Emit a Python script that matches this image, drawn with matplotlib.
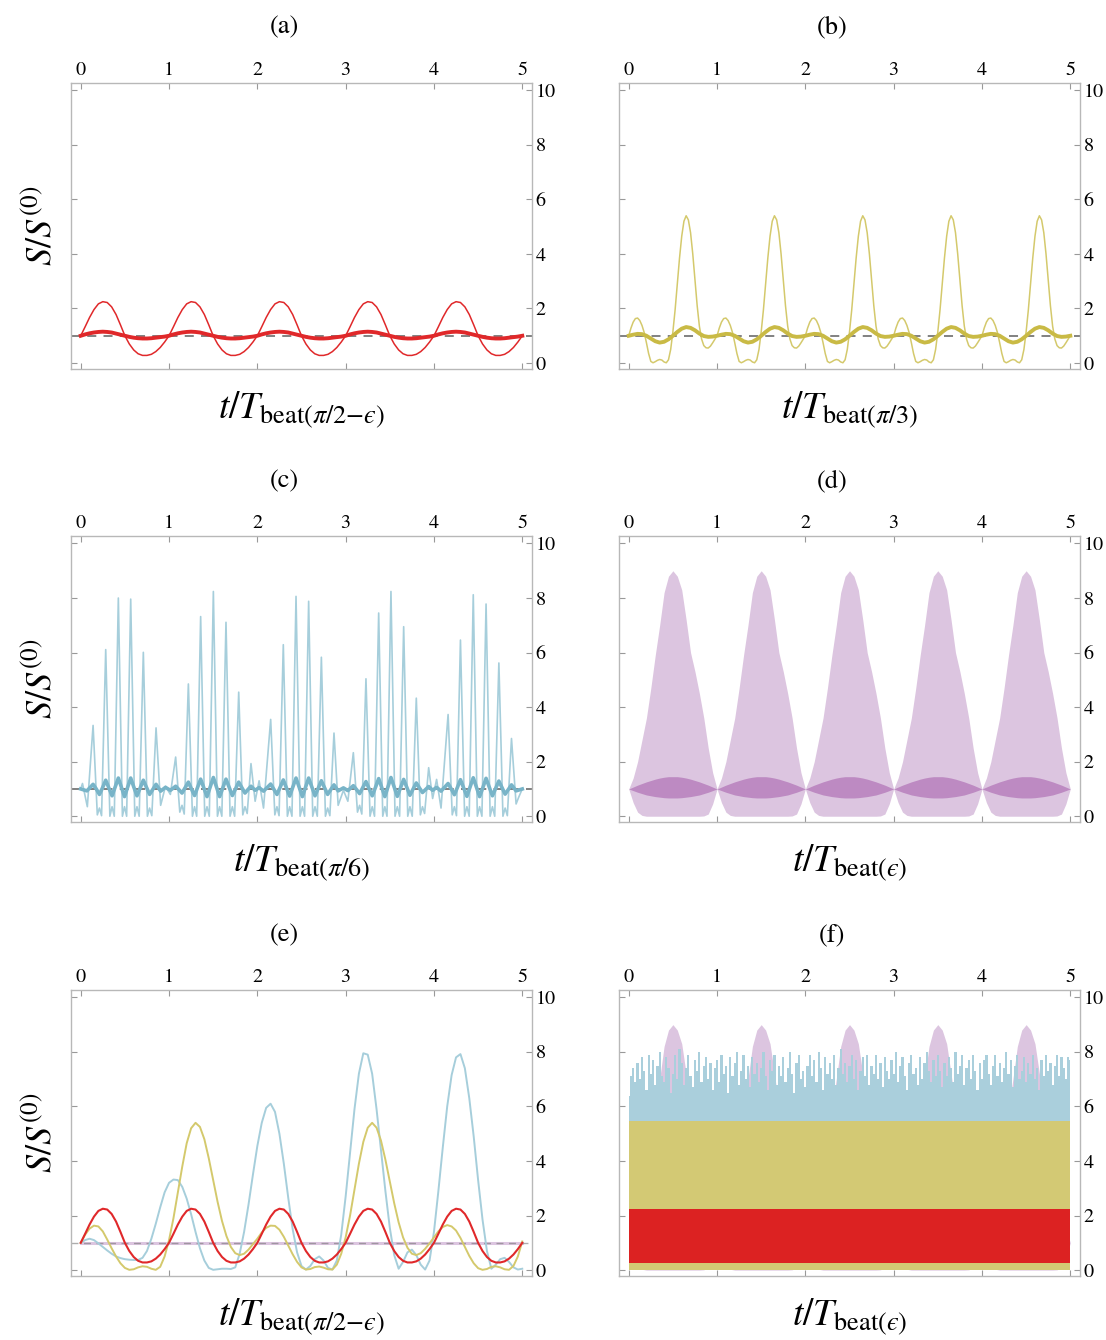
import numpy as np
import matplotlib
matplotlib.use('Agg')
import matplotlib.pyplot as plt

plt.rcParams['font.family'] = ['STIXGeneral', 'DejaVu Serif']
plt.rcParams['mathtext.fontset'] = 'stix'

# sample times (t / T_beat)
t_coarse = np.linspace(0, 5, 101)   # step 0.05
t_fine = np.linspace(0, 5, 201)     # step 0.025

# (a) theta = pi/2 - eps, red
a_thin = [
    1.00, 1.33, 1.67, 1.96, 2.17, 2.25, 2.22, 2.06, 1.78, 1.40, 1.00, 0.70, 0.48, 0.34, 0.28, 0.28, 0.32, 0.42, 0.57, 0.77,
    1.00, 1.33, 1.67, 1.96, 2.17, 2.25, 2.22, 2.06, 1.78, 1.40, 1.00, 0.70, 0.48, 0.34, 0.28, 0.28, 0.32, 0.42, 0.57, 0.77,
    1.00, 1.33, 1.67, 1.96, 2.17, 2.25, 2.22, 2.06, 1.78, 1.40, 1.00, 0.70, 0.48, 0.34, 0.28, 0.28, 0.32, 0.42, 0.57, 0.77,
    1.00, 1.33, 1.67, 1.96, 2.17, 2.25, 2.22, 2.06, 1.78, 1.40, 1.00, 0.70, 0.48, 0.34, 0.28, 0.28, 0.32, 0.42, 0.57, 0.77,
    1.00, 1.33, 1.67, 1.96, 2.17, 2.25, 2.22, 2.06, 1.78, 1.40, 1.00, 0.70, 0.48, 0.34, 0.28, 0.28, 0.32, 0.42, 0.57, 0.77,
    1.00]
a_thick = [
    1.00, 1.05, 1.09, 1.12, 1.14, 1.15, 1.14, 1.12, 1.08, 1.04, 1.00, 0.96, 0.93, 0.91, 0.90, 0.90, 0.91, 0.93, 0.95, 0.97,
    1.00, 1.05, 1.09, 1.12, 1.14, 1.15, 1.14, 1.12, 1.08, 1.04, 1.00, 0.96, 0.93, 0.91, 0.90, 0.90, 0.91, 0.93, 0.95, 0.97,
    1.00, 1.05, 1.09, 1.12, 1.14, 1.15, 1.14, 1.12, 1.08, 1.04, 1.00, 0.96, 0.93, 0.91, 0.90, 0.90, 0.91, 0.93, 0.95, 0.97,
    1.00, 1.05, 1.09, 1.12, 1.14, 1.15, 1.14, 1.12, 1.08, 1.04, 1.00, 0.96, 0.93, 0.91, 0.90, 0.90, 0.91, 0.93, 0.95, 0.97,
    1.00, 1.05, 1.09, 1.12, 1.14, 1.15, 1.14, 1.12, 1.08, 1.04, 1.00, 0.96, 0.93, 0.91, 0.90, 0.90, 0.91, 0.93, 0.95, 0.97,
    1.00]

# (b) theta = pi/3, yellow (thin on fine grid)
b_thin = [
    1.00, 1.28, 1.50, 1.63, 1.65, 1.56, 1.38, 1.12, 0.75, 0.35, 0.06, 0.01, 0.05, 0.10, 0.13, 0.11, 0.04, 0.01, 0.12, 0.50,
    1.15, 1.95, 2.90, 3.85, 4.65, 5.20, 5.40, 5.25, 4.78, 4.00, 3.05, 2.10, 1.35, 0.88, 0.64, 0.56, 0.55, 0.62, 0.74, 0.87,
    1.00, 1.28, 1.50, 1.63, 1.65, 1.56, 1.38, 1.12, 0.75, 0.35, 0.06, 0.01, 0.05, 0.10, 0.13, 0.11, 0.04, 0.01, 0.12, 0.50,
    1.15, 1.95, 2.90, 3.85, 4.65, 5.20, 5.40, 5.25, 4.78, 4.00, 3.05, 2.10, 1.35, 0.88, 0.64, 0.56, 0.55, 0.62, 0.74, 0.87,
    1.00, 1.28, 1.50, 1.63, 1.65, 1.56, 1.38, 1.12, 0.75, 0.35, 0.06, 0.01, 0.05, 0.10, 0.13, 0.11, 0.04, 0.01, 0.12, 0.50,
    1.15, 1.95, 2.90, 3.85, 4.65, 5.20, 5.40, 5.25, 4.78, 4.00, 3.05, 2.10, 1.35, 0.88, 0.64, 0.56, 0.55, 0.62, 0.74, 0.87,
    1.00, 1.28, 1.50, 1.63, 1.65, 1.56, 1.38, 1.12, 0.75, 0.35, 0.06, 0.01, 0.05, 0.10, 0.13, 0.11, 0.04, 0.01, 0.12, 0.50,
    1.15, 1.95, 2.90, 3.85, 4.65, 5.20, 5.40, 5.25, 4.78, 4.00, 3.05, 2.10, 1.35, 0.88, 0.64, 0.56, 0.55, 0.62, 0.74, 0.87,
    1.00, 1.28, 1.50, 1.63, 1.65, 1.56, 1.38, 1.12, 0.75, 0.35, 0.06, 0.01, 0.05, 0.10, 0.13, 0.11, 0.04, 0.01, 0.12, 0.50,
    1.15, 1.95, 2.90, 3.85, 4.65, 5.20, 5.40, 5.25, 4.78, 4.00, 3.05, 2.10, 1.35, 0.88, 0.64, 0.56, 0.55, 0.62, 0.74, 0.87,
    1.00]
b_thick = [
    1.00, 1.04, 1.07, 1.06, 1.00, 0.90, 0.80, 0.75, 0.78, 0.87, 1.00, 1.14, 1.26, 1.32, 1.29, 1.20, 1.08, 0.99, 0.96, 0.97,
    1.00, 1.04, 1.07, 1.06, 1.00, 0.90, 0.80, 0.75, 0.78, 0.87, 1.00, 1.14, 1.26, 1.32, 1.29, 1.20, 1.08, 0.99, 0.96, 0.97,
    1.00, 1.04, 1.07, 1.06, 1.00, 0.90, 0.80, 0.75, 0.78, 0.87, 1.00, 1.14, 1.26, 1.32, 1.29, 1.20, 1.08, 0.99, 0.96, 0.97,
    1.00, 1.04, 1.07, 1.06, 1.00, 0.90, 0.80, 0.75, 0.78, 0.87, 1.00, 1.14, 1.26, 1.32, 1.29, 1.20, 1.08, 0.99, 0.96, 0.97,
    1.00, 1.04, 1.07, 1.06, 1.00, 0.90, 0.80, 0.75, 0.78, 0.87, 1.00, 1.14, 1.26, 1.32, 1.29, 1.20, 1.08, 0.99, 0.96, 0.97,
    1.00]

# (c) theta = pi/6, blue: (t, S) key points
c_thin = [
    (0.000, 1.00), (0.020, 1.20), (0.075, 0.35),
    (0.140, 3.33), (0.188, 0.05), (0.212, 0.30), (0.236, 0.02),
    (0.283, 6.11), (0.330, 0.00), (0.355, 0.35), (0.380, 0.00),
    (0.426, 8.00), (0.472, 0.00), (0.496, 0.35), (0.520, 0.00),
    (0.566, 7.96), (0.612, 0.00), (0.637, 0.35), (0.662, 0.00),
    (0.709, 6.01), (0.755, 0.00), (0.780, 0.30), (0.805, 0.02),
    (0.853, 3.24), (0.905, 0.40), (0.960, 1.10), (1.015, 0.80),
    (1.075, 2.17), (1.122, 0.15), (1.147, 0.40), (1.172, 0.08),
    (1.219, 4.85), (1.265, 0.00), (1.289, 0.35), (1.313, 0.00),
    (1.358, 7.32), (1.404, 0.00), (1.430, 0.35), (1.456, 0.00),
    (1.502, 8.24), (1.548, 0.00), (1.573, 0.35), (1.598, 0.00),
    (1.645, 7.11), (1.691, 0.00), (1.717, 0.35), (1.743, 0.00),
    (1.789, 4.55), (1.835, 0.05), (1.860, 0.35), (1.885, 0.10),
    (1.928, 1.93), (1.975, 0.55), (2.020, 1.30), (2.070, 0.30),
    (2.151, 3.55), (2.198, 0.05), (2.222, 0.35), (2.246, 0.02),
    (2.294, 6.29), (2.340, 0.00), (2.366, 0.35), (2.392, 0.00),
    (2.438, 8.06), (2.484, 0.00), (2.510, 0.35), (2.535, 0.00),
    (2.581, 7.88), (2.627, 0.00), (2.653, 0.35), (2.679, 0.00),
    (2.725, 5.83), (2.771, 0.00), (2.796, 0.30), (2.821, 0.02),
    (2.868, 3.05), (2.915, 0.40), (2.975, 0.95), (3.025, 0.55),
    (3.087, 2.33), (3.134, 0.15), (3.158, 0.40), (3.183, 0.08),
    (3.230, 5.04), (3.276, 0.00), (3.301, 0.35), (3.327, 0.00),
    (3.374, 7.45), (3.420, 0.00), (3.444, 0.35), (3.468, 0.00),
    (3.513, 8.24), (3.559, 0.00), (3.585, 0.35), (3.611, 0.00),
    (3.657, 6.95), (3.703, 0.00), (3.728, 0.35), (3.754, 0.00),
    (3.800, 4.33), (3.846, 0.05), (3.870, 0.35), (3.894, 0.10),
    (3.940, 1.78), (3.985, 0.65), (4.030, 1.35), (4.080, 0.30),
    (4.160, 3.73), (4.207, 0.05), (4.231, 0.35), (4.255, 0.02),
    (4.300, 6.46), (4.347, 0.00), (4.373, 0.35), (4.399, 0.00),
    (4.445, 8.12), (4.491, 0.00), (4.517, 0.35), (4.543, 0.00),
    (4.590, 7.78), (4.636, 0.00), (4.662, 0.35), (4.688, 0.00),
    (4.735, 5.62), (4.781, 0.00), (4.806, 0.30), (4.831, 0.02),
    (4.878, 2.85), (4.930, 0.45), (4.960, 0.70), (5.000, 1.00)]
c_thick = [
    (0.000, 1.00), (0.040, 0.96), (0.070, 0.93), (0.105, 1.05), (0.140, 1.17), (0.176, 1.00),
    (0.212, 0.80), (0.248, 1.05), (0.283, 1.32), (0.319, 1.03), (0.355, 0.75), (0.390, 1.07),
    (0.426, 1.40), (0.461, 1.06), (0.496, 0.72), (0.531, 1.06), (0.566, 1.40), (0.601, 1.07),
    (0.637, 0.75), (0.673, 1.03), (0.709, 1.32), (0.745, 1.06), (0.780, 0.80), (0.816, 0.98),
    (0.853, 1.17), (0.905, 0.92), (0.960, 1.06), (1.015, 0.95), (1.075, 1.10), (1.111, 0.98),
    (1.147, 0.85), (1.183, 1.05), (1.219, 1.25), (1.254, 1.00), (1.289, 0.76), (1.324, 1.06),
    (1.358, 1.36), (1.394, 1.04), (1.430, 0.72), (1.466, 1.07), (1.502, 1.42), (1.538, 1.07),
    (1.573, 0.72), (1.609, 1.04), (1.645, 1.36), (1.681, 1.06), (1.717, 0.76), (1.753, 1.00),
    (1.789, 1.25), (1.825, 1.05), (1.860, 0.85), (1.894, 0.98), (1.928, 1.10), (1.975, 0.95),
    (2.020, 1.05), (2.070, 0.92), (2.111, 1.05), (2.151, 1.18), (2.187, 0.99), (2.222, 0.80),
    (2.258, 1.06), (2.294, 1.33), (2.330, 1.03), (2.366, 0.74), (2.402, 1.07), (2.438, 1.40),
    (2.474, 1.06), (2.510, 0.72), (2.546, 1.06), (2.581, 1.40), (2.617, 1.07), (2.653, 0.75),
    (2.689, 1.03), (2.725, 1.30), (2.761, 1.05), (2.796, 0.80), (2.832, 0.98), (2.868, 1.15),
    (2.915, 0.93), (2.975, 1.04), (3.025, 0.94), (3.087, 1.12), (3.123, 0.98), (3.158, 0.83),
    (3.194, 1.05), (3.230, 1.27), (3.266, 1.01), (3.301, 0.75), (3.338, 1.06), (3.374, 1.38),
    (3.409, 1.05), (3.444, 0.72), (3.479, 1.07), (3.513, 1.42), (3.549, 1.07), (3.585, 0.73),
    (3.621, 1.04), (3.657, 1.35), (3.693, 1.06), (3.728, 0.77), (3.764, 1.00), (3.800, 1.22),
    (3.835, 1.04), (3.870, 0.87), (3.905, 0.98), (3.940, 1.09), (3.985, 0.95), (4.030, 1.06),
    (4.080, 0.92), (4.120, 1.06), (4.160, 1.20), (4.196, 1.00), (4.231, 0.79), (4.266, 1.06),
    (4.300, 1.34), (4.337, 1.03), (4.373, 0.73), (4.409, 1.07), (4.445, 1.41), (4.481, 1.06),
    (4.517, 0.72), (4.554, 1.05), (4.590, 1.39), (4.626, 1.07), (4.662, 0.75), (4.699, 1.02),
    (4.735, 1.29), (4.771, 1.05), (4.806, 0.81), (4.842, 0.98), (4.878, 1.15), (4.930, 0.93),
    (5.000, 1.00)]

# (d) theta = eps, purple envelopes of the fast oscillation
d_env_top = [
    1.0, 1.4, 2.0, 2.8, 3.6, 4.7, 5.9, 7.0, 8.2, 8.8, 9.0, 8.8, 8.3, 7.2, 6.0, 5.3, 4.5, 3.6, 2.5, 1.6,
    1.0, 1.4, 2.0, 2.8, 3.6, 4.7, 5.9, 7.0, 8.2, 8.8, 9.0, 8.8, 8.3, 7.2, 6.0, 5.3, 4.5, 3.6, 2.5, 1.6,
    1.0, 1.4, 2.0, 2.8, 3.6, 4.7, 5.9, 7.0, 8.2, 8.8, 9.0, 8.8, 8.3, 7.2, 6.0, 5.3, 4.5, 3.6, 2.5, 1.6,
    1.0, 1.4, 2.0, 2.8, 3.6, 4.7, 5.9, 7.0, 8.2, 8.8, 9.0, 8.8, 8.3, 7.2, 6.0, 5.3, 4.5, 3.6, 2.5, 1.6,
    1.0, 1.4, 2.0, 2.8, 3.6, 4.7, 5.9, 7.0, 8.2, 8.8, 9.0, 8.8, 8.3, 7.2, 6.0, 5.3, 4.5, 3.6, 2.5, 1.6,
    1.0]
d_env_bot = [
    1.0, 0.50, 0.15, 0.03, 0.0, 0.0, 0.0, 0.0, 0.0, 0.0, 0.0, 0.0, 0.0, 0.0, 0.0, 0.0, 0.0, 0.01, 0.08, 0.45,
    1.0, 0.50, 0.15, 0.03, 0.0, 0.0, 0.0, 0.0, 0.0, 0.0, 0.0, 0.0, 0.0, 0.0, 0.0, 0.0, 0.0, 0.01, 0.08, 0.45,
    1.0, 0.50, 0.15, 0.03, 0.0, 0.0, 0.0, 0.0, 0.0, 0.0, 0.0, 0.0, 0.0, 0.0, 0.0, 0.0, 0.0, 0.01, 0.08, 0.45,
    1.0, 0.50, 0.15, 0.03, 0.0, 0.0, 0.0, 0.0, 0.0, 0.0, 0.0, 0.0, 0.0, 0.0, 0.0, 0.0, 0.0, 0.01, 0.08, 0.45,
    1.0, 0.50, 0.15, 0.03, 0.0, 0.0, 0.0, 0.0, 0.0, 0.0, 0.0, 0.0, 0.0, 0.0, 0.0, 0.0, 0.0, 0.01, 0.08, 0.45,
    1.0]
d_avg_top = [
    1.00, 1.07, 1.14, 1.20, 1.26, 1.31, 1.36, 1.40, 1.43, 1.45, 1.45, 1.45, 1.43, 1.40, 1.36, 1.31, 1.26, 1.20, 1.14, 1.07,
    1.00, 1.07, 1.14, 1.20, 1.26, 1.31, 1.36, 1.40, 1.43, 1.45, 1.45, 1.45, 1.43, 1.40, 1.36, 1.31, 1.26, 1.20, 1.14, 1.07,
    1.00, 1.07, 1.14, 1.20, 1.26, 1.31, 1.36, 1.40, 1.43, 1.45, 1.45, 1.45, 1.43, 1.40, 1.36, 1.31, 1.26, 1.20, 1.14, 1.07,
    1.00, 1.07, 1.14, 1.20, 1.26, 1.31, 1.36, 1.40, 1.43, 1.45, 1.45, 1.45, 1.43, 1.40, 1.36, 1.31, 1.26, 1.20, 1.14, 1.07,
    1.00, 1.07, 1.14, 1.20, 1.26, 1.31, 1.36, 1.40, 1.43, 1.45, 1.45, 1.45, 1.43, 1.40, 1.36, 1.31, 1.26, 1.20, 1.14, 1.07,
    1.00]
d_avg_bot = [
    1.00, 0.94, 0.88, 0.83, 0.78, 0.75, 0.72, 0.70, 0.68, 0.67, 0.67, 0.67, 0.68, 0.70, 0.72, 0.75, 0.78, 0.83, 0.88, 0.94,
    1.00, 0.94, 0.88, 0.83, 0.78, 0.75, 0.72, 0.70, 0.68, 0.67, 0.67, 0.67, 0.68, 0.70, 0.72, 0.75, 0.78, 0.83, 0.88, 0.94,
    1.00, 0.94, 0.88, 0.83, 0.78, 0.75, 0.72, 0.70, 0.68, 0.67, 0.67, 0.67, 0.68, 0.70, 0.72, 0.75, 0.78, 0.83, 0.88, 0.94,
    1.00, 0.94, 0.88, 0.83, 0.78, 0.75, 0.72, 0.70, 0.68, 0.67, 0.67, 0.67, 0.68, 0.70, 0.72, 0.75, 0.78, 0.83, 0.88, 0.94,
    1.00, 0.94, 0.88, 0.83, 0.78, 0.75, 0.72, 0.70, 0.68, 0.67, 0.67, 0.67, 0.68, 0.70, 0.72, 0.75, 0.78, 0.83, 0.88, 0.94,
    1.00]

# (e) all angles on the t/T_beat(pi/2-eps) axis
e_yellow = [
    1.00, 1.30, 1.52, 1.63, 1.60, 1.42, 1.12, 0.80, 0.50, 0.25, 0.08, 0.01, 0.03, 0.10, 0.14, 0.12, 0.05, 0.01, 0.12, 0.50,
    1.10, 1.90, 2.85, 3.80, 4.65, 5.20, 5.40, 5.25, 4.80, 4.10, 3.30, 2.50, 1.80, 1.25, 0.85, 0.62, 0.55, 0.60, 0.75, 0.95,
    1.15, 1.38, 1.55, 1.63, 1.62, 1.48, 1.22, 0.90, 0.58, 0.30, 0.10, 0.02, 0.04, 0.11, 0.13, 0.09, 0.03, 0.02, 0.20, 0.60,
    1.20, 2.00, 2.95, 3.90, 4.70, 5.22, 5.40, 5.22, 4.75, 4.05, 3.25, 2.45, 1.75, 1.20, 0.82, 0.60, 0.55, 0.62, 0.78, 0.98,
    1.20, 1.42, 1.58, 1.65, 1.60, 1.45, 1.18, 0.85, 0.52, 0.25, 0.07, 0.01, 0.04, 0.12, 0.14, 0.10, 0.03, 0.01, 0.15, 0.50,
    1.05]
e_blue = [
    1.00, 1.10, 1.15, 1.10, 0.98, 0.85, 0.72, 0.60, 0.50, 0.44, 0.40, 0.38, 0.37, 0.37, 0.45, 0.70, 1.15, 1.70, 2.30, 2.85,
    3.20, 3.32, 3.30, 3.05, 2.62, 2.05, 1.40, 0.80, 0.35, 0.08, 0.01, 0.03, 0.05, 0.05, 0.04, 0.10, 0.60, 1.40, 2.40, 3.50,
    4.55, 5.40, 5.95, 6.10, 5.80, 5.00, 3.90, 2.65, 1.50, 0.65, 0.15, 0.02, 0.15, 0.40, 0.50, 0.35, 0.08, 0.02, 0.35, 1.30,
    2.70, 4.30, 5.90, 7.20, 7.95, 7.90, 7.20, 5.90, 4.40, 2.90, 1.55, 0.55, 0.05, 0.30, 0.65, 0.75, 0.55, 0.20, 0.02, 0.35,
    1.40, 2.90, 4.50, 6.00, 7.15, 7.80, 7.92, 7.40, 6.30, 4.90, 3.30, 1.85, 0.70, 0.05, 0.20, 0.40, 0.45, 0.30, 0.10, 0.02,
    0.05]
e_purple = [1.0, 1.0]
e_purple_t = [0.0, 5.0]

# (f) all angles on the t/T_beat(eps) axis: filled ranges
f_blue_top = [
    6.4, 7.1, 7.4, 6.9, 7.6, 7.0, 7.8, 7.3, 6.6, 7.9, 7.2, 7.7, 6.8, 7.5, 8.0, 7.1, 6.9, 7.8, 7.4, 6.5,
    7.2, 7.9, 7.0, 8.1, 7.6, 6.8, 7.4, 7.9, 7.1, 6.7, 7.7, 7.3, 8.0, 6.9, 7.5, 7.8, 7.0, 7.6, 6.6, 7.4,
    7.7, 6.9, 7.9, 7.2, 7.5, 6.5, 7.8, 7.1, 7.6, 8.0, 6.8, 7.3, 7.9, 7.0, 7.5, 6.7, 7.8, 7.2, 7.6, 6.9,
    7.4, 8.0, 7.1, 6.6, 7.7, 7.3, 7.9, 6.8, 7.5, 7.1, 7.8, 6.9, 7.4, 8.0, 7.2, 6.5, 7.6, 7.9, 7.0, 7.3,
    6.7, 7.5, 7.9, 7.1, 7.7, 6.9, 8.0, 7.4, 6.6, 7.8, 7.2, 7.6, 7.0, 7.9, 6.8, 7.4, 8.1, 7.2, 7.6, 6.9,
    7.5, 7.9, 7.0, 7.7, 6.6, 7.3, 7.8, 7.1, 7.9, 6.8, 7.5, 7.2, 7.9, 7.0, 7.6, 6.7, 7.8, 7.3, 7.0, 7.7,
    7.2, 8.0, 6.9, 7.5, 7.8, 7.1, 6.6, 7.6, 7.9, 7.2, 7.4, 6.8, 7.8, 7.0, 7.6, 8.0, 7.3, 6.9, 7.7, 7.1,
    7.9, 7.3, 6.7, 7.6, 7.1, 7.8, 7.4, 6.9, 8.0, 7.2, 7.5, 7.9, 6.8, 7.4, 7.7, 7.0, 7.9, 7.3, 6.6, 7.6,
    7.0, 7.7, 7.9, 7.2, 6.8, 7.5, 7.9, 7.1, 7.6, 6.9, 7.4, 8.0, 7.2, 7.7, 6.7, 7.5, 7.9, 7.0, 7.3, 7.8,
    6.9, 7.6, 7.2, 7.9, 7.0, 7.4, 6.6, 7.7, 7.1, 7.9, 7.3, 7.6, 6.8, 7.5, 7.9, 7.1, 7.8, 7.4, 7.0, 7.8,
    7.7]
f_yellow_range = (0.0, 5.45)
f_red_range = (0.27, 2.25)
f_span = [0.0, 5.0]

# colours
RED = '#e0282a'
RED_FILL = '#dc2222'
YEL = '#d4c96c'
YEL_THICK = '#c9ba45'
YEL_FILL = '#d3c974'
BLUE = '#a6cedb'
BLUE_THICK = '#78b4c8'
BLUE_FILL = '#aacfdc'
PURP = '#dcc5e0'
PURP_DARK = '#bd8ac2'
GRAY = '#777777'


def style_axes(ax):
    ax.set_xlim(-0.11, 5.105)
    ax.set_ylim(-0.2, 10.27)
    ax.set_xticks(range(6))
    ax.set_yticks(range(0, 11, 2))
    ax.tick_params(axis='x', direction='in', top=True, bottom=True,
                   labeltop=True, labelbottom=False, length=4, width=0.8,
                   color='#999999', labelsize=14.5, pad=3)
    ax.tick_params(axis='y', direction='in', left=True, right=True,
                   labelleft=False, labelright=True, length=4, width=0.8,
                   color='#999999', labelsize=14.5, pad=3)
    for s in ax.spines.values():
        s.set_color('#b8b8b8')
        s.set_linewidth(1.0)


def label_axes(ax, tag, xlab, ylab=True):
    ax.text(0.4625, 1.193, tag, transform=ax.transAxes, ha='center',
            va='center', fontsize=19)
    ax.text(0.5, -0.145, xlab, transform=ax.transAxes, ha='center',
            va='center', fontsize=27)
    if ylab:
        ax.text(-0.063, 0.5, r'$S/S^{(0)}$', transform=ax.transAxes,
                ha='center', va='center', rotation=90, fontsize=26)


fig = plt.figure(figsize=(11.06, 13.4), dpi=100)
w, h = 0.4164, 0.2131
lefts = [0.0642, 0.5597]
bottoms = [0.7250, 0.3868, 0.0481]
axs = [[fig.add_axes([l, b, w, h]) for l in lefts] for b in bottoms]

lab1 = '$t/T_{\\mathrm{beat}(\\pi/2{-}\u03f5)}$'
lab2 = r'$t/T_{\mathrm{beat}(\pi/3)}$'
lab3 = r'$t/T_{\mathrm{beat}(\pi/6)}$'
lab4 = '$t/T_{\\mathrm{beat}(\u03f5)}$'

# (a)
ax = axs[0][0]
ax.axhline(1.0, color=GRAY, lw=1.3, ls=(0, (5, 4)), zorder=1)
ax.plot(t_coarse, a_thin, color=RED, lw=1.1, zorder=2)
ax.plot(t_coarse, a_thick, color=RED, lw=2.8, zorder=3)
style_axes(ax)
label_axes(ax, '(a)', lab1)

# (b)
ax = axs[0][1]
ax.axhline(1.0, color=GRAY, lw=1.3, ls=(0, (5, 4)), zorder=1)
ax.plot(t_fine, b_thin, color=YEL, lw=1.1, zorder=2)
ax.plot(t_coarse, b_thick, color=YEL_THICK, lw=2.8, zorder=3)
style_axes(ax)
label_axes(ax, '(b)', lab2, ylab=False)

# (c)
ax = axs[1][0]
ct, cs = np.array(c_thin).T
kt, ks = np.array(c_thick).T
ax.axhline(1.0, color=GRAY, lw=1.3, ls=(0, (5, 4)), zorder=1)
ax.plot(ct, cs, color=BLUE, lw=1.2, zorder=2)
ax.plot(kt, ks, color=BLUE_THICK, lw=2.6, zorder=3)
style_axes(ax)
label_axes(ax, '(c)', lab3)

# (d)
ax = axs[1][1]
ax.fill_between(t_coarse, d_env_bot, d_env_top, color=PURP, lw=0, zorder=1)
ax.fill_between(t_coarse, d_avg_bot, d_avg_top, color=PURP_DARK, lw=0, zorder=2)
style_axes(ax)
label_axes(ax, '(d)', lab4, ylab=False)

# (e)
ax = axs[2][0]
ax.plot(e_purple_t, e_purple, color=PURP, lw=2.2, zorder=1)
ax.axhline(1.0, color=GRAY, lw=1.0, ls=(0, (5, 4)), zorder=2, alpha=0.6)
ax.plot(t_coarse, e_blue, color=BLUE, lw=1.4, zorder=3)
ax.plot(t_coarse, e_yellow, color=YEL, lw=1.4, zorder=4)
ax.plot(t_coarse, a_thin, color=RED, lw=1.5, zorder=5)
style_axes(ax)
label_axes(ax, '(e)', lab1)

# (f)
ax = axs[2][1]
ax.fill_between(t_coarse, d_env_bot, d_env_top, color=PURP, lw=0, zorder=1)
ax.fill_between(t_fine, 0, f_blue_top, color=BLUE_FILL, lw=0, step='mid', zorder=2)
ax.fill_between(f_span, *f_yellow_range, color=YEL_FILL, lw=0, zorder=3)
ax.fill_between(f_span, *f_red_range, color=RED_FILL, lw=0, zorder=4)
style_axes(ax)
label_axes(ax, '(f)', lab4, ylab=False)

fig.savefig('out.png', dpi=100)
